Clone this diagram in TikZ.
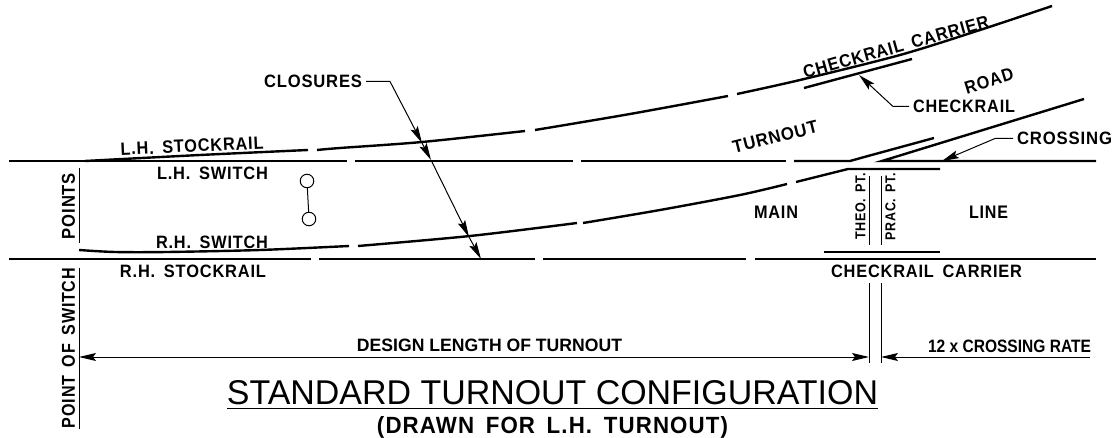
\documentclass[tikz,border=0pt]{standalone}
\usepackage{fontspec}
\usepackage{graphicx}
\setmainfont{Liberation Sans}
\usetikzlibrary{arrows.meta}
\newfontfamily\lblfont[LetterSpace=5,WordSpace=1.6]{Liberation Sans}
\newcommand{\fitbold}[2]{\resizebox{#1pt}{12.5pt}{\fontsize{15}{15}\lblfont\bfseries #2}}
\newcommand{\fitsmall}[2]{\resizebox{#1pt}{10pt}{\fontsize{15}{15}\lblfont\bfseries #2}}
\tikzset{
  rail/.style={line width=2.4pt,line cap=butt},
  thin line/.style={line width=1pt},
  tipped/.style={thin line,-{Stealth[length=17pt,width=8pt,inset=3pt]}},
  lbl/.style={inner sep=0pt,outer sep=0pt,text=black},
  leadlbl/.style={lbl,inner xsep=4pt}
}
\begin{document}
\begin{tikzpicture}[x=1pt,y=-1pt]
\useasboundingbox (0,0) rectangle (1119,438);
% top straight rail
\draw[rail] (9,161) -- (347,161);
\draw[rail] (355,161) -- (573,161);
\draw[rail] (581,161) -- (786,161);
\draw[rail] (794,161) -- (850,161) -- (868,156) -- (934,138);
% crossing
\draw[rail] (1084,99) -- (882,161) -- (1096,161);
% L.H. stockrail curve
\draw[rail] plot[smooth] coordinates {(85,161) (200,155) (308,150)};
\draw[rail] plot[smooth] coordinates {(317,150) (340,148) (422,142) (525,131)};
\draw[rail] plot[smooth] coordinates {(535,130) (630,114) (728,96)};
\draw[rail] plot[smooth] coordinates {(737,94) (800,80) (900,55) (980,30) (1052,6)};
% R.H. switch curve
\draw[rail] plot[smooth] coordinates {(79,250) (115,252) (167,252) (260,250) (349,246)};
\draw[rail] plot[smooth] coordinates {(358,246) (470,236) (577,223)};
\draw[rail] plot[smooth] coordinates {(583,223) (660,210) (740,195) (787,184)};
\draw[rail] (796,182) -- (848,169) -- (940,169);
% lower rails
\draw[rail] (824,252) -- (940,252);
\draw[rail] (9,259) -- (311,259);
\draw[rail] (319,259) -- (535,259);
\draw[rail] (543,259) -- (746,259);
\draw[rail] (755,259) -- (1096,259);
% checkrail
\draw[rail] (804,88) -- (912,59);
% extension lines
\draw[thin line] (79,168) -- (79,243);
\draw[thin line] (79,268) -- (79,429);
\draw[thin line] (869,176) -- (869,245);
\draw[thin line] (881,176) -- (881,245);
\draw[thin line] (869,283) -- (869,363);
\draw[thin line] (881,283) -- (881,363);
% circles
\node[circle,draw,line width=1pt,minimum size=13.5pt,inner sep=0pt] (c1) at (307,181) {};
\node[circle,draw,line width=1pt,minimum size=13.5pt,inner sep=0pt] (c2) at (309,219) {};
\draw[thin line] (c1) -- (c2);
% dimension arrows
\coordinate (dl) at (79,357);
\coordinate (dr) at (869,357);
\coordinate (er) at (881,357);
\coordinate (ef) at (1090,357);
\draw[thin line,{Stealth[length=17pt,width=8pt,inset=3pt]}-{Stealth[length=17pt,width=8pt,inset=3pt]}] (dl) -- (dr);
\draw[tipped] (ef) -- (er);
% labels
\node[lbl,rotate=2.6] (lhs) at (192,146) {\fitbold{143}{L.H. STOCKRAIL}};
\node[lbl] (lsw) at (212.5,173) {\fitbold{111}{L.H. SWITCH}};
\node[lbl] (rsw) at (212,242) {\fitbold{112}{R.H. SWITCH}};
\node[lbl] (rhs) at (193,271) {\fitbold{146}{R.H. STOCKRAIL}};
\node[lbl,rotate=90] (pts) at (68.5,206) {\resizebox{66pt}{13pt}{\fontsize{15}{15}\lblfont\bfseries POINTS}};
\node[lbl,rotate=90] (pos) at (68.5,348) {\resizebox{160pt}{13pt}{\fontsize{15}{15}\lblfont\bfseries POINT OF SWITCH}};
\node[lbl,rotate=14] (tur) at (775,137) {\fitbold{87}{TURNOUT}};
\node[lbl,rotate=17] (rd) at (989,81) {\fitbold{50}{ROAD}};
\node[lbl,rotate=15.6] (cc1) at (896,47) {\fitbold{192}{CHECKRAIL CARRIER}};
\node[lbl] (mn) at (776,212) {\fitbold{44}{MAIN}};
\node[lbl] (ln) at (988.5,212) {\fitbold{39}{LINE}};
\node[lbl,rotate=90] (theo) at (860.5,206.5) {\fitsmall{67}{THEO. PT.}};
\node[lbl,rotate=90] (prac) at (890.5,206.5) {\fitsmall{67}{PRAC. PT.}};
\node[lbl] (cc2) at (926.5,271) {\fitbold{191}{CHECKRAIL CARRIER}};
\node[lbl] (dlt) at (489.5,345) {\resizebox{265pt}{12.5pt}{\fontsize{15}{15}\selectfont\bfseries DESIGN LENGTH OF TURNOUT}};
\node[lbl] (cr) at (1009.5,346) {\resizebox{163pt}{12.5pt}{\fontsize{15}{15}\selectfont\bfseries 12 x CROSSING RATE}};
\node[lbl] (tt) at (552.5,393) {\resizebox{651pt}{24pt}{\fontsize{32}{32}\selectfont STANDARD TURNOUT CONFIGURATION}};
\draw[thin line] (227,408) -- (878,408);
\node[lbl] (st) at (552.5,427) {\resizebox{351pt}{17pt}{\fontsize{15}{15}\lblfont\bfseries (DRAWN FOR L.H. TURNOUT)}};
% leaders
\node[leadlbl] (clo) at (313,81.5) {\fitbold{98}{CLOSURES}};
\node[leadlbl] (chk) at (964,106.5) {\fitbold{102}{CHECKRAIL}};
\node[leadlbl] (crs) at (1064.5,138.5) {\fitbold{95}{CROSSING}};
\coordinate (e1) at (390,81.5);
\coordinate (t1) at (422,143);
\coordinate (t2) at (431,160);
\coordinate (t3) at (469,237);
\coordinate (t4) at (481,259);
\draw[tipped] (clo.east) -- (e1) -- (t1);
\draw[tipped] (t1) -- (t2);
\draw[tipped] (t2) -- (t3);
\draw[tipped] (t3) -- (t4);
\coordinate (e2) at (893,106.5);
\coordinate (t5) at (859,75);
\draw[tipped] (chk.west) -- (e2) -- (t5);
\coordinate (e3) at (995,138.5);
\coordinate (t6) at (942,161);
\draw[tipped] (crs.west) -- (e3) -- (t6);
\end{tikzpicture}
\end{document}
